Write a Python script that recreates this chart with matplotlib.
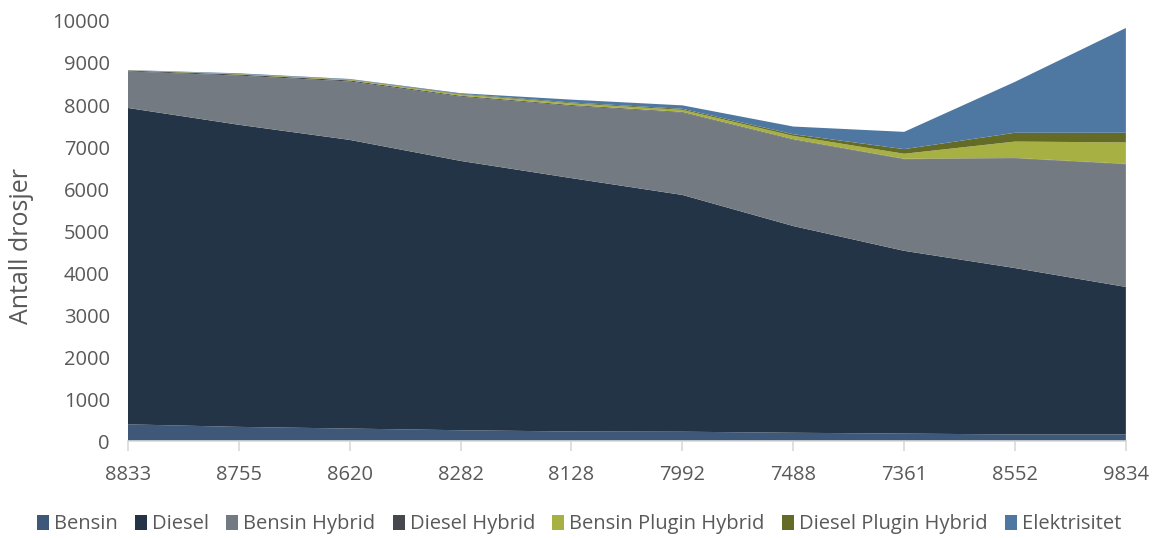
import matplotlib.pyplot as plt

years = ['8833', '8755', '8620', '8282', '8128', '7992', '7488', '7361', '8552', '9834']

bensin = [400, 340, 300, 260, 230, 225, 200, 180, 160, 160]
diesel = [7530, 7190, 6870, 6410, 6030, 5635, 4920, 4350, 3960, 3510]
bensin_hybrid = [870, 1170, 1390, 1530, 1720, 1960, 2050, 2180, 2610, 2920]
diesel_hybrid = [20, 25, 25, 20, 20, 15, 15, 10, 10, 10]
bensin_plugin = [5, 10, 15, 30, 40, 50, 80, 120, 390, 510]
diesel_plugin = [3, 5, 10, 15, 20, 25, 40, 110, 210, 230]
elektrisitet = [5, 15, 10, 17, 68, 82, 183, 411, 1212, 2494]

labels = ['Bensin', 'Diesel', 'Bensin Hybrid', 'Diesel Hybrid',
          'Bensin Plugin Hybrid', 'Diesel Plugin Hybrid', 'Elektrisitet']
colors = ['#3d5878', '#243447', '#737a82', '#45494e',
          '#a7b143', '#646b27', '#4e78a2']

plt.rcParams['font.family'] = ['Open Sans', 'DejaVu Sans']

fig = plt.figure(figsize=(11.57, 5.38), dpi=100)
ax = fig.add_axes([0.1106, 0.180, 0.8625, 0.781])

x = list(range(len(years)))
ax.stackplot(x, bensin, diesel, bensin_hybrid, diesel_hybrid,
             bensin_plugin, diesel_plugin, elektrisitet,
             labels=labels, colors=colors, linewidth=0)

ax.set_xlim(0, len(years) - 1)
ax.set_ylim(0, 10000)
ax.set_yticks(range(0, 10001, 1000))
ax.set_xticks(x)
ax.set_xticklabels(years)

for s in ['top', 'right', 'left']:
    ax.spines[s].set_visible(False)
ax.spines['bottom'].set_color('#d9d9d9')
ax.spines['bottom'].set_linewidth(1.2)
ax.tick_params(axis='x', colors='#d9d9d9', labelcolor='#595959', length=7,
               width=1.2, labelsize=14.5, pad=10)
ax.tick_params(axis='y', length=0, labelcolor='#595959', labelsize=14.5, pad=13)
ax.set_ylabel('Antall drosjer', color='#595959', fontsize=18)
ax.yaxis.set_label_coords(-0.094, 0.465)

ax.legend(loc='center', bbox_to_anchor=(0.452, -0.198), ncol=7, frameon=False,
          fontsize=14.5, labelcolor='#595959', handlelength=0.6, handleheight=0.75,
          handletextpad=0.25, columnspacing=0.85, borderaxespad=0)

fig.savefig('out.png', dpi=100)
